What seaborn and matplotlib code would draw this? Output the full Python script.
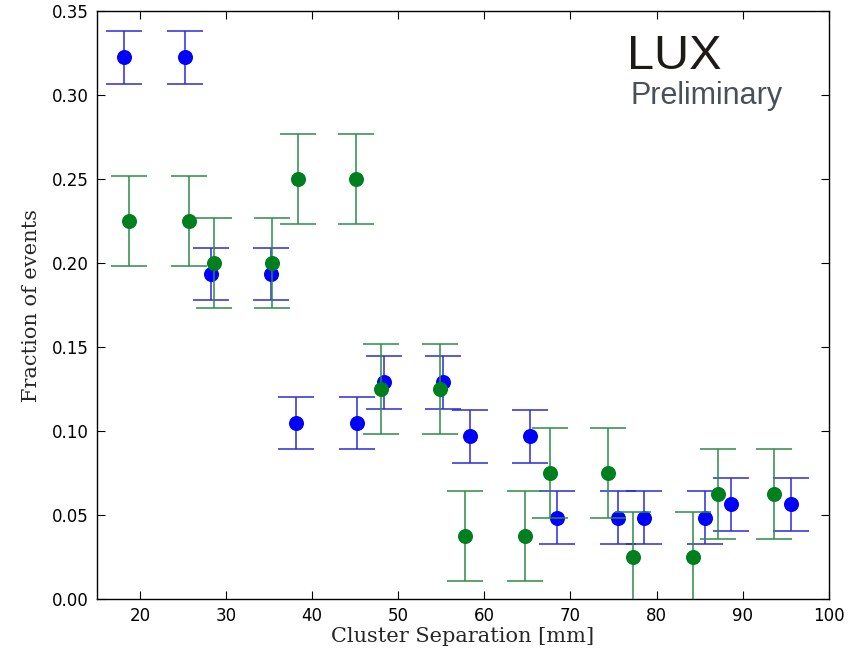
import numpy as np
import pandas as pd
import matplotlib
matplotlib.use('Agg')
import matplotlib.pyplot as plt
import seaborn as sns

# data
blue_x = [18.1, 25.2, 28.3, 35.2, 38.1, 45.2, 48.3, 55.2, 58.3, 65.3, 68.4, 75.5, 78.5, 85.6, 88.6, 95.6]
blue_y = [0.3226, 0.3226, 0.1935, 0.1935, 0.1048, 0.1048, 0.129, 0.129,
          0.0968, 0.0968, 0.0484, 0.0484, 0.0484, 0.0484, 0.0565, 0.0565]
blue_err = [0.0157] * 16

green_x = [18.7, 25.7, 28.6, 35.3, 38.4, 45.1, 48.0, 54.9, 57.8, 64.7, 67.6, 74.4, 77.3, 84.2, 87.1, 93.7]
green_y = [0.225, 0.225, 0.2, 0.2, 0.25, 0.25, 0.125, 0.125,
           0.0375, 0.0375, 0.075, 0.075, 0.025, 0.025, 0.0625, 0.0625]
green_err = [0.027] * 16

x_ticks = [20, 30, 40, 50, 60, 70, 80, 90, 100]
y_ticks = [0.00, 0.05, 0.10, 0.15, 0.20, 0.25, 0.30, 0.35]

df = pd.concat([
    pd.DataFrame({'sep': blue_x, 'frac': blue_y, 'set': 'blue'}),
    pd.DataFrame({'sep': green_x, 'frac': green_y, 'set': 'green'}),
])
colors = {'blue': '#0000ff', 'green': '#007f1f'}

sns.set_style('ticks', {'xtick.direction': 'in', 'ytick.direction': 'in'})
plt.rcParams['font.family'] = ['DejaVu Sans']

fig = plt.figure(figsize=(8.57, 6.54), dpi=100)
ax = fig.add_axes([0.113, 0.084, 0.854, 0.899])

# error bars first, then the markers (green on top of blue)
ax.errorbar(blue_x, blue_y, yerr=blue_err, fmt='none', ecolor='#2b2bd6',
            elinewidth=1.1, capsize=13, capthick=1.1, zorder=2)
sns.scatterplot(data=df[df['set'] == 'blue'], x='sep', y='frac', color=colors['blue'],
                s=117, linewidth=0, ax=ax, zorder=3, legend=False)
ax.errorbar(green_x, green_y, yerr=green_err, fmt='none', ecolor='#2e8a4a',
            elinewidth=1.1, capsize=13, capthick=1.1, zorder=4)
sns.scatterplot(data=df[df['set'] == 'green'], x='sep', y='frac', color=colors['green'],
                s=117, linewidth=0, ax=ax, zorder=5, legend=False)

ax.set_xlim(15, 100)
ax.set_ylim(0, 0.35)
ax.set_xticks(x_ticks)
ax.set_yticks(y_ticks)
ax.set_yticklabels([f'{v:.2f}' for v in y_ticks])
ax.tick_params(axis='both', which='both', direction='in', top=True, right=True,
               labelsize=12, length=6, width=0.8, pad=6, colors='black')
for s in ax.spines.values():
    s.set_visible(True)
    s.set_linewidth(1.0)
    s.set_color('black')

ax.set_xlabel('Cluster Separation [mm]', fontsize=15, family='DejaVu Serif', labelpad=1)
ax.set_ylabel('Fraction of events', fontsize=15, family='DejaVu Serif', labelpad=8)

# "LUX Preliminary" stamp
ax.text(0.724, 0.901, 'LUX', transform=ax.transAxes, fontsize=35,
        family='Liberation Sans', color='#1e1a18', va='baseline', ha='left')
ax.text(0.729, 0.842, 'Preliminary', transform=ax.transAxes, fontsize=22,
        family='Liberation Sans', color='#4a5058', va='baseline', ha='left')

fig.savefig('out.png', dpi=100)
